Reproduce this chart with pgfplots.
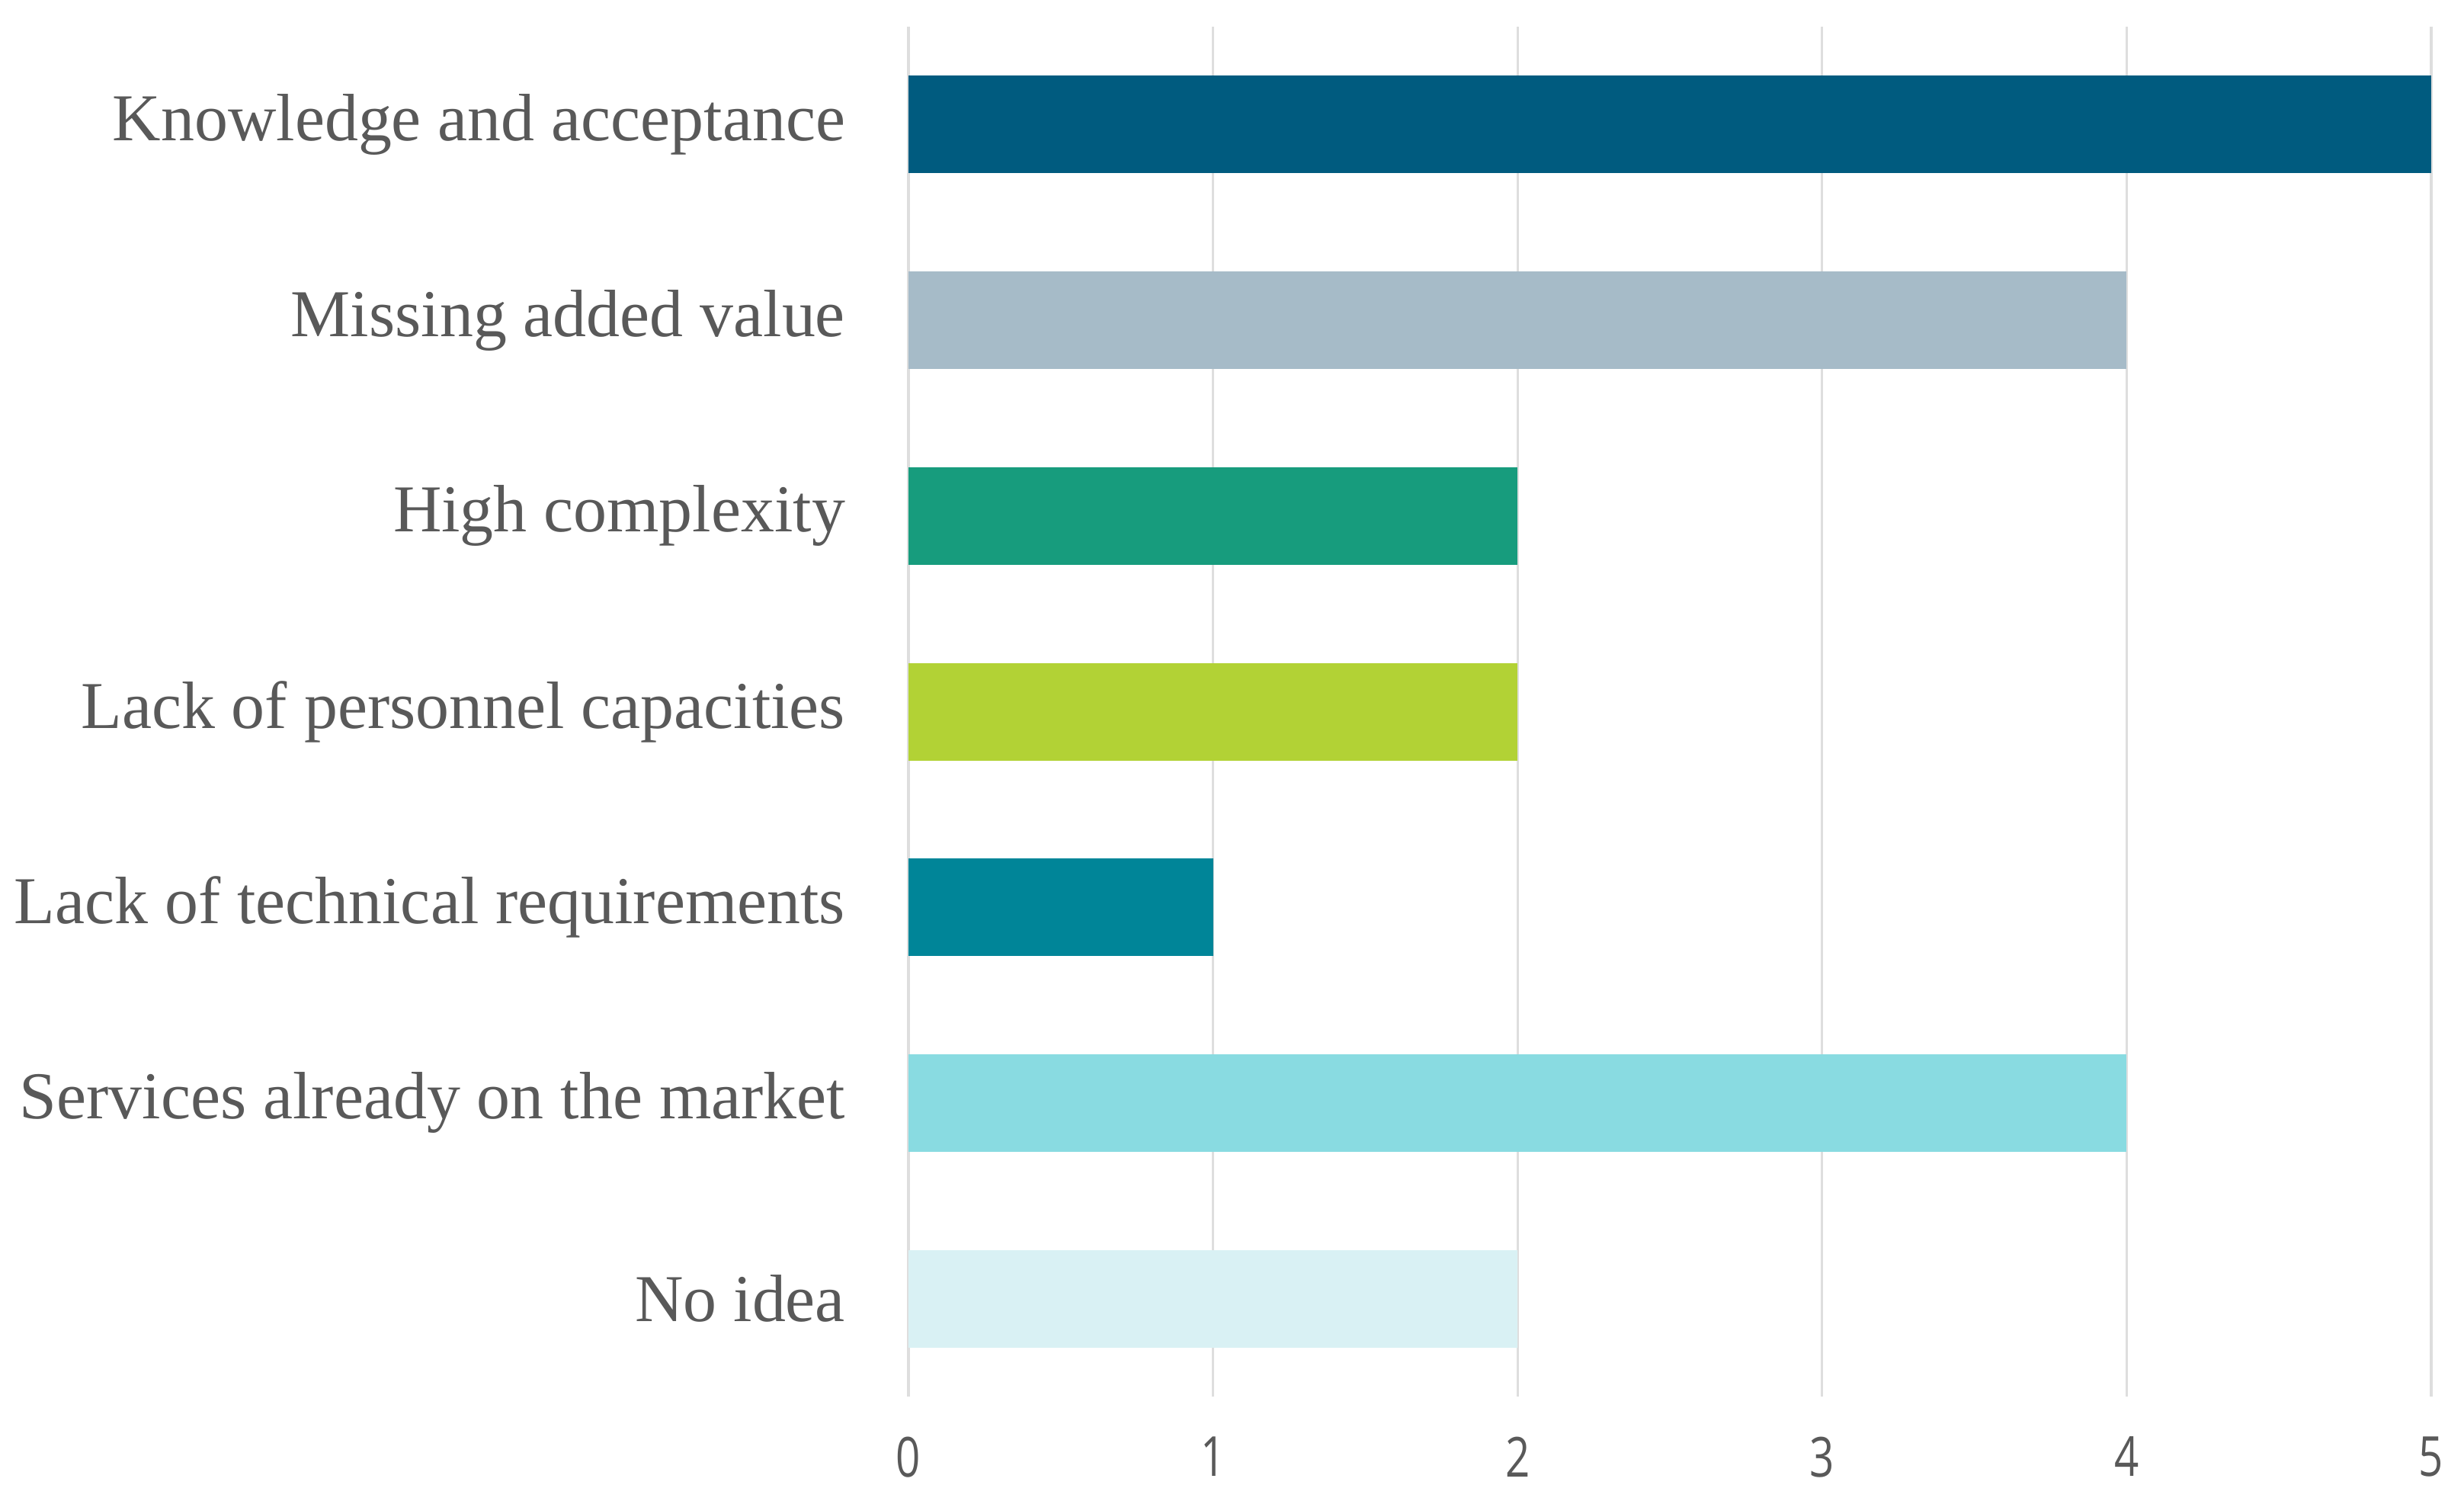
\documentclass[border=0pt]{standalone}
\usepackage{pgfplots}
\pgfplotsset{compat=1.18}
\usepackage{fontspec}
\setmainfont{Liberation Serif}
\newfontfamily\tickfont[FakeStretch=0.78]{Open Sans}
\definecolor{cK}{HTML}{005B7F}
\definecolor{cM}{HTML}{A6BBC8}
\definecolor{cH}{HTML}{179C7D}
\definecolor{cP}{HTML}{B2D235}
\definecolor{cT}{HTML}{008598}
\definecolor{cS}{HTML}{89DBE1}
\definecolor{cN}{HTML}{D9F1F4}
\definecolor{gridgray}{HTML}{DEDEDE}
\definecolor{labelgray}{HTML}{595959}
\begin{document}
\begin{tikzpicture}
\begin{axis}[
  at={(5.96cm,0.68cm)}, anchor=south west,
  scale only axis, width=9.99cm, height=8.985cm,
  xbar, bar width=0.64cm,
  xmin=0, xmax=5, ymin=-0.5, ymax=6.5, y dir=reverse,
  ytick={0,1,2,3,4,5,6},
  yticklabels={Knowledge and acceptance, Missing added value, High complexity, Lack of personnel capacities, Lack of technical requirements, Services already on the market, No idea},
  xtick={0,1,2,3,4,5},
  xmajorgrids, major grid style={color=gridgray, line width=0.45pt},
  axis line style={draw=none}, tick style={draw=none},
  yticklabel style={font=\fontsize{12.5}{15}\selectfont, text=labelgray, xshift=-4pt},
  xticklabel style={font=\tickfont\fontsize{10.3}{13}\selectfont, text=labelgray, yshift=-4pt},
  /pgf/number format/assume math mode=true,
  clip=false,
]
\addplot[fill=cK, draw=none, bar shift=0pt] coordinates {(5,0)};
\addplot[fill=cM, draw=none, bar shift=0pt] coordinates {(4,1)};
\addplot[fill=cH, draw=none, bar shift=0pt] coordinates {(2,2)};
\addplot[fill=cP, draw=none, bar shift=0pt] coordinates {(2,3)};
\addplot[fill=cT, draw=none, bar shift=0pt] coordinates {(1,4)};
\addplot[fill=cS, draw=none, bar shift=0pt] coordinates {(4,5)};
\addplot[fill=cN, draw=none, bar shift=0pt] coordinates {(2,6)};
\end{axis}
\pgfresetboundingbox
\path (0,0) rectangle (16.165cm,9.84cm);
\end{tikzpicture}
\end{document}
